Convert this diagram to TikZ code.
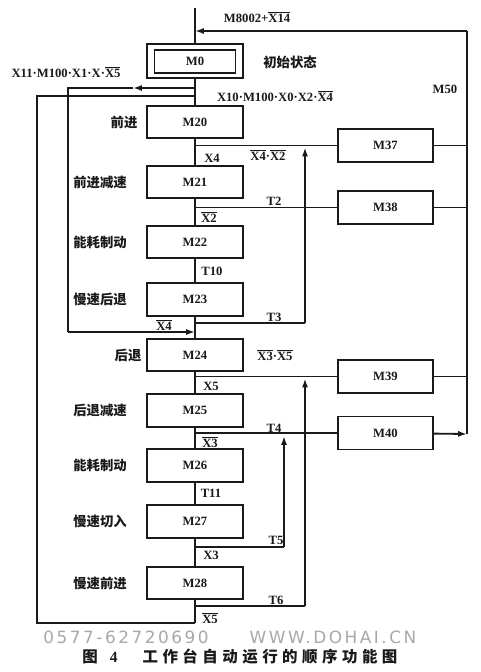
\documentclass[tikz,border=0pt]{standalone}
\usepackage{fontspec}
\setmainfont{Liberation Serif}
\newfontfamily\cjk{Noto Sans CJK SC}
\newfontfamily\cjkcap[LetterSpace=29]{Noto Sans CJK SC}
\newfontfamily\wmfont[LetterSpace=15]{DejaVu Sans}
\usetikzlibrary{arrows.meta,calc,positioning}
\definecolor{ink}{HTML}{1A1A1A}
\definecolor{wmgray}{HTML}{A8A8A8}
\newcommand{\nt}[1]{\ensuremath{\overline{\mbox{#1}}}}
\tikzset{>={Latex[length=2.2mm,width=1.5mm]},line width=1.3pt,
  every node/.style={font=\fontsize{9}{10}\selectfont\bfseries,text=ink},
  stepbox/.style={draw=ink,line width=1.3pt,minimum width=24mm,minimum height=8.2mm,inner sep=0pt},
  sidebox/.style={draw=ink,line width=1.3pt,minimum width=23.75mm,minimum height=8.25mm,inner sep=0pt},
  flow/.style={draw=ink,line width=1.3pt},
  act/.style={font=\fontsize{9.5}{11}\selectfont\cjk\bfseries},
  wm/.style={font=\fontsize{12}{12}\selectfont\wmfont,text=wmgray}}

\begin{document}
\begin{tikzpicture}[x=.25mm,y=-.25mm]
\useasboundingbox[fill=white] (0,0) rectangle (480,672);
% initial step
\node[draw=ink,line width=1.3pt,minimum width=24mm,minimum height=8.5mm] (m0box) at (195,61) {};
\node[stepbox,minimum width=20.25mm,minimum height=5.75mm] (m0) at (195,61.5) {M0};
% steps
\foreach \n/\y in {20/122,21/182,22/242,23/299.5,24/355,25/410.5,26/465.5,27/521.5,28/583}
  \node[stepbox] (m\n) at (195,\y) {M\n};
\foreach \n/\y in {37/145.5,38/207.5,39/376.5,40/433}
  \node[sidebox] (m\n) at (385.5,\y) {M\n};
% actions
\coordinate (actx) at (100,0);
\node[act] (a0) at (290,62) {初始状态};
\node[act] (a20) at (124,122) {前进};
\node[act] (a24) at (128,355) {后退};
\foreach \n/\t in {21/前进减速,22/能耗制动,23/慢速后退,25/后退减速,26/能耗制动,27/慢速切入,28/慢速前进}
  \node[act] (a\n) at (m\n -| actx) {\t};
% main line
\coordinate (top) at (195,8);
\coordinate (bot) at (195,623);
\coordinate (fb) at (195,31);
\coordinate (rt) at (467,31);
\coordinate (rb) at (467,434);
\draw[flow] (top) -- (m0box);
\draw[flow] (m0box) -- (m20);
\foreach \a/\b in {m20/m21,m21/m22,m22/m23,m23/m24,m24/m25,m25/m26,m26/m27,m27/m28}
  \draw[flow] (\a) -- (\b);
\draw[flow] (m28) -- (bot);
% return bus
\draw[flow] (rb) -- (rt);
\draw[flow,->] (rt) -- (fb);
\foreach \n in {37,38,39}
  \draw[flow] (m\n) -- (m\n -| rt);
\draw[flow,->] (m40) -- (rb);
\foreach \n in {37,38,39,40}
  \draw[flow] (m\n -| top) -- (m\n);
% timer returns
\coordinate (u1) at (305,323);
\coordinate (u2) at (305,606);
\coordinate (u3) at (284,547);
\draw[flow] (u1 -| top) -- (u1);
\draw[flow,->] (u1) -- ($(m37 -| u1)+(0,2)$);
\draw[flow] (u2 -| top) -- (u2);
\draw[flow,->] (u2) -- ($(m39 -| u2)+(0,2)$);
\draw[flow] (u3 -| top) -- (u3);
\draw[flow,->] (u3) -- ($(m40 -| u3)+(0,3)$);
% left loops
\coordinate (l1) at (68,88);
\coordinate (l1a) at (133,88);
\coordinate (l1b) at (68,332);
\draw[flow,->] (l1 -| top) -- (l1a);
\draw[flow] (l1a) -- (l1) -- (l1b);
\draw[flow,->] (l1b) -- (l1b -| top);
\coordinate (l2) at (37,96);
\coordinate (l2b) at (37,623);
\draw[flow] (l2 -| top) -- (l2) -- (l2b) -- (bot);
% conditions
\node[anchor=west] (c0) at (219,17) {M8002+\nt{X14}};
\node (n50) at (445,89) {M50};
\node (c1) at (66,72) {X11·M100·X1·X·\nt{X5}};
\node (c2) at (275,96) {X10·M100·X0·X2·\nt{X4}};
\node (c3) at (212,158) {X4};
\node (c4) at (268,155) {\nt{X4}·\nt{X2}};
\node (c5) at (274,201) {T2};
\node (c6) at (209,217) {\nt{X2}};
\node (c7) at (212,271) {T10};
\node (c8) at (274,317) {T3};
\node (c9) at (164,325) {\nt{X4}};
\node (c10) at (275,355) {\nt{X3}·\nt{X5}};
\node (c11) at (211,386) {X5};
\node (c12) at (274,428) {T4};
\node (c13) at (210,442) {\nt{X3}};
\node (c14) at (211,493) {T11};
\node (c15) at (276,540) {T5};
\node (c16) at (211,555) {X3};
\node (c17) at (276,600) {T6};
\node (c18) at (210,618) {\nt{X5}};
% watermark and caption
\node[wm] (wm1) at (126,637) {0577-62720690};
\node[wm] (wm2) at (333,637) {WWW.DOHAI.CN};
\node[font=\fontsize{11}{12}\selectfont\bfseries] (cap1) at (100,657) {{\cjk 图}\hspace{3mm}4};
\node[font=\fontsize{11}{12}\selectfont\cjkcap\bfseries] (cap2) at (270,657) {工作台自动运行的顺序功能图};
\end{tikzpicture}
\end{document}
